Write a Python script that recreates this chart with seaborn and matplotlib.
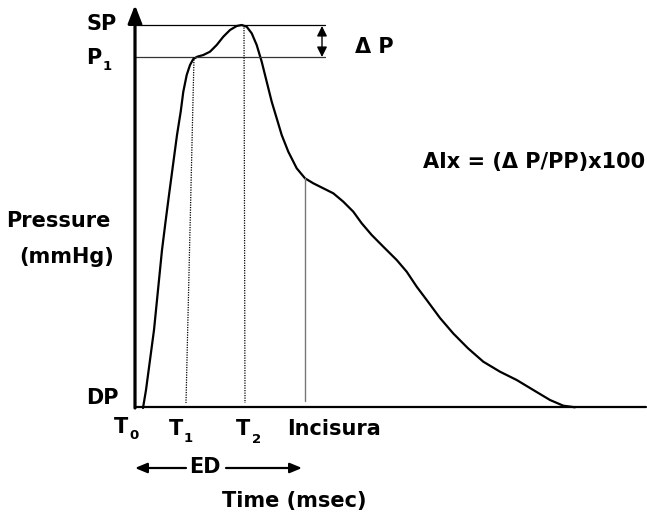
import matplotlib
matplotlib.use("Agg")
import matplotlib.pyplot as plt
import seaborn as sns
import pandas as pd

# ---- data: pressure waveform (time px, pressure px, y downward)
wave_t = [143, 146, 148, 150, 154, 157, 162, 165.5, 169, 173, 177, 180.7, 183.3, 186.7, 190,
          193.3, 197.3, 203.3, 210, 216.7, 223.3, 230, 236.7, 241.7, 246.7, 251.7, 256.7,
          261.7, 266.7, 271.7, 276.7, 281.7, 288.3, 296.7, 305, 313.3, 323.3, 333.3, 343.3,
          353.3, 361.7, 371.7, 383.3, 396.7, 406.7, 416.7, 426.7, 440, 453.3, 468, 483.3,
          500, 516.7, 533.3, 550, 563.3, 575]
wave_p = [408, 390, 375, 360, 330, 300, 250, 222, 195, 165, 135, 111.7, 91.7, 75, 65,
          59, 56.7, 55, 51.7, 45, 36.7, 30, 26, 25, 26.7, 33.3, 45,
          61.7, 81.7, 101.7, 118.3, 135, 151.7, 168.3, 178.3, 183.3, 188.3, 193.3, 201.7,
          211.7, 223.3, 235, 246.7, 260, 271.7, 286.7, 300, 318, 333.5, 348.3, 361.7,
          371.7, 380, 390, 400, 405.7, 407.3]

# key levels / times
sp_level = 25
p1_level = 57
dp_level = 407
t0 = 135
t1_top, t1_bottom = 194, 186
t2 = 244
incisura_t, incisura_p = 305, 178
ed_end = 302

y_labels = ["SP", "P", "DP"]
x_labels = ["T", "T", "T", "Incisura"]
subscripts = ["0", "1", "2"]

sns.set_theme(style="white")
plt.rcParams["font.family"] = ["DejaVu Sans"]

fig = plt.figure(figsize=(6.47, 5.13), dpi=100)
ax = fig.add_axes([0, 0, 1, 1])
ax.set_xlim(0, 647)
ax.set_ylim(513, 0)
ax.axis("off")

df = pd.DataFrame({"t": wave_t, "p": wave_p})
sns.lineplot(data=df, x="t", y="p", sort=False, color="black", lw=1.6, ax=ax,
             solid_joinstyle="round", solid_capstyle="round")

# axes with arrow
ax.annotate("", xy=(t0, 5), xytext=(t0, dp_level + 1),
            arrowprops=dict(arrowstyle="-|>,head_length=0.9,head_width=0.35", lw=2.3,
                            color="black", shrinkA=0, shrinkB=0))
ax.plot([t0, 646], [dp_level, dp_level], color="black", lw=1.6)

# SP and P1 levels
ax.plot([t0, 325], [sp_level, sp_level], color="black", lw=0.9)
ax.plot([t0, 325], [p1_level, p1_level], color="#333333", lw=0.9)
ax.annotate("", xy=(322, sp_level + 1), xytext=(322, p1_level),
            arrowprops=dict(arrowstyle="<|-|>,head_length=0.5,head_width=0.25", lw=1.0,
                            color="black", shrinkA=0, shrinkB=0))

# vertical markers
ax.plot([t1_top, t1_bottom], [p1_level, 403], color="black", lw=0.9, ls=(0, (1, 1)))
ax.plot([t2, t2 + 1], [sp_level, 403], color="black", lw=0.9, ls=(0, (1, 1)))
ax.plot([incisura_t, incisura_t], [incisura_p, 401], color="#777777", lw=1.0)

# ED arrows
ax.annotate("", xy=(t0, 468), xytext=(186, 468),
            arrowprops=dict(arrowstyle="-|>,head_length=0.6,head_width=0.25", lw=1.6,
                            color="black", shrinkA=0, shrinkB=0))
ax.annotate("", xy=(ed_end, 468), xytext=(226, 468),
            arrowprops=dict(arrowstyle="-|>,head_length=0.6,head_width=0.25", lw=1.6,
                            color="black", shrinkA=0, shrinkB=0))

fs = 15
sub_fs = 9.5
kw = dict(fontsize=fs, fontweight="bold", color="black", va="baseline")
skw = dict(fontsize=sub_fs, fontweight="bold", color="black", va="baseline", ha="center")

ax.text(102, 30, y_labels[0], ha="center", **kw)
ax.text(94, 64, y_labels[1], ha="center", **kw)
ax.text(107, 70, subscripts[1], **skw)
ax.text(102, 404, y_labels[2], ha="center", **kw)
ax.text(374, 53, "Δ P", ha="center", **kw)
ax.text(534, 168, "AIx = (Δ P/PP)x100", ha="center", **kw)
ax.text(58, 227, "Pressure", ha="center", **kw)
ax.text(67, 263, "(mmHg)", ha="center", **kw)

ax.text(121, 433, x_labels[0], ha="center", **kw)
ax.text(134, 439, subscripts[0], **skw)
ax.text(176, 435, x_labels[1], ha="center", **kw)
ax.text(188, 442, subscripts[1], **skw)
ax.text(243, 435, x_labels[2], ha="center", **kw)
ax.text(257, 443, subscripts[2], **skw)
ax.text(334, 435, x_labels[3], ha="center", **kw)

ax.text(205, 473, "ED", ha="center", **kw)
ax.text(294, 507, "Time (msec)", ha="center", **kw)

fig.savefig("out.png", dpi=100)
